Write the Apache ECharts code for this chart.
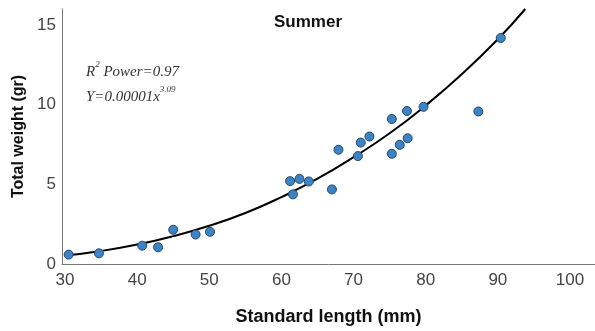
<!DOCTYPE html>
<html>
<head>
<meta charset="utf-8">
<script src="https://cdn.jsdelivr.net/npm/echarts@6/dist/echarts.min.js"></script>
<style>
  html, body { margin: 0; padding: 0; background: #fff; }
  #chart { width: 595px; height: 331px; }
</style>
</head>
<body>
<div id="chart"></div>
<script>
// observed fish: standard length (mm) and total weight (gr)
const lengths = [30.5, 34.7, 40.7, 42.9, 45.0, 48.1, 50.1,
  61.2, 62.5, 63.8, 61.6, 67.0, 67.9, 70.6, 71.0, 72.2,
  75.3, 75.3, 76.4, 77.4, 77.5, 79.7, 87.3, 90.4];
const weights = [0.59, 0.67, 1.15, 1.05, 2.15, 1.85, 2.02,
  5.2, 5.34, 5.18, 4.37, 4.68, 7.17, 6.77, 7.62, 8.0,
  9.1, 6.92, 7.48, 9.6, 7.89, 9.86, 9.57, 14.18];

// fitted power curve
const fitX = [30, 35, 40, 45, 50, 55, 60, 65, 70, 75, 80, 85, 90, 93.8];
const fitY = [0.53, 0.82, 1.22, 1.75, 2.4, 3.2, 4.2, 5.35, 6.7, 8.2, 9.95, 11.9, 14.1, 16];

const xTicks = [30, 40, 50, 60, 70, 80, 90, 100];
const yTicks = [0, 5, 10, 15];

const chart = echarts.init(document.getElementById('chart'));

const axisText = { color: '#444', fontSize: 17, fontFamily: 'Liberation Sans, Arial' };

chart.setOption({
  animation: false,
  grid: { left: 62, right: 0, top: 9, bottom: 66.5 },
  graphic: [
    {
      type: 'text', x: 308, y: 14,
      style: {
        text: 'Summer', fill: '#111', fontSize: 17, fontWeight: 'bold',
        fontFamily: 'Liberation Sans, Arial', textAlign: 'center'
      }
    },
    {
      type: 'text', left: 86, top: 60,
      style: {
        text: '{t|R}{s|2}{t| Power=0.97}\n{t|Y=0.00001x}{s|3.09}',
        fill: '#333',
        rich: {
          t: { fontSize: 15, fontStyle: 'italic', fontFamily: 'Liberation Serif', lineHeight: 25, fill: '#333' },
          s: { fontSize: 9, fontStyle: 'italic', fontFamily: 'Liberation Serif', verticalAlign: 'top', lineHeight: 25, fill: '#333', padding: [0, 0, 8, 0] }
        }
      }
    }
  ],
  xAxis: {
    type: 'value', min: 29.58, max: 103.47,
    name: 'Standard length (mm)', nameLocation: 'middle', nameGap: 44,
    nameTextStyle: { fontSize: 18, fontWeight: 'bold', color: '#111', fontFamily: 'Liberation Sans, Arial' },
    axisLine: { lineStyle: { color: '#777', width: 1 } },
    axisTick: { show: false },
    splitLine: { show: false },
    axisLabel: Object.assign({ margin: 8, customValues: xTicks }, axisText)
  },
  yAxis: {
    type: 'value', min: 0, max: 16, interval: 5,
    name: 'Total weight (gr)', nameLocation: 'middle', nameGap: 33,
    nameTextStyle: { fontSize: 16, fontWeight: 'bold', color: '#111', fontFamily: 'Liberation Sans, Arial' },
    axisLine: { show: true, lineStyle: { color: '#777', width: 1 } },
    axisTick: { show: false },
    splitLine: { show: false },
    axisLabel: Object.assign({ margin: 6, customValues: yTicks }, axisText)
  },
  series: [
    {
      type: 'line',
      data: fitX.map((x, i) => [x, fitY[i]]),
      smooth: true,
      showSymbol: false,
      clip: true,
      lineStyle: { color: '#000', width: 2 },
      z: 2
    },
    {
      type: 'scatter',
      data: lengths.map((x, i) => [x, weights[i]]),
      symbolSize: 9,
      itemStyle: { color: '#3d84c6', borderColor: '#22466a', borderWidth: 1, opacity: 1 },
      z: 3
    }
  ]
});
</script>
</body>
</html>
